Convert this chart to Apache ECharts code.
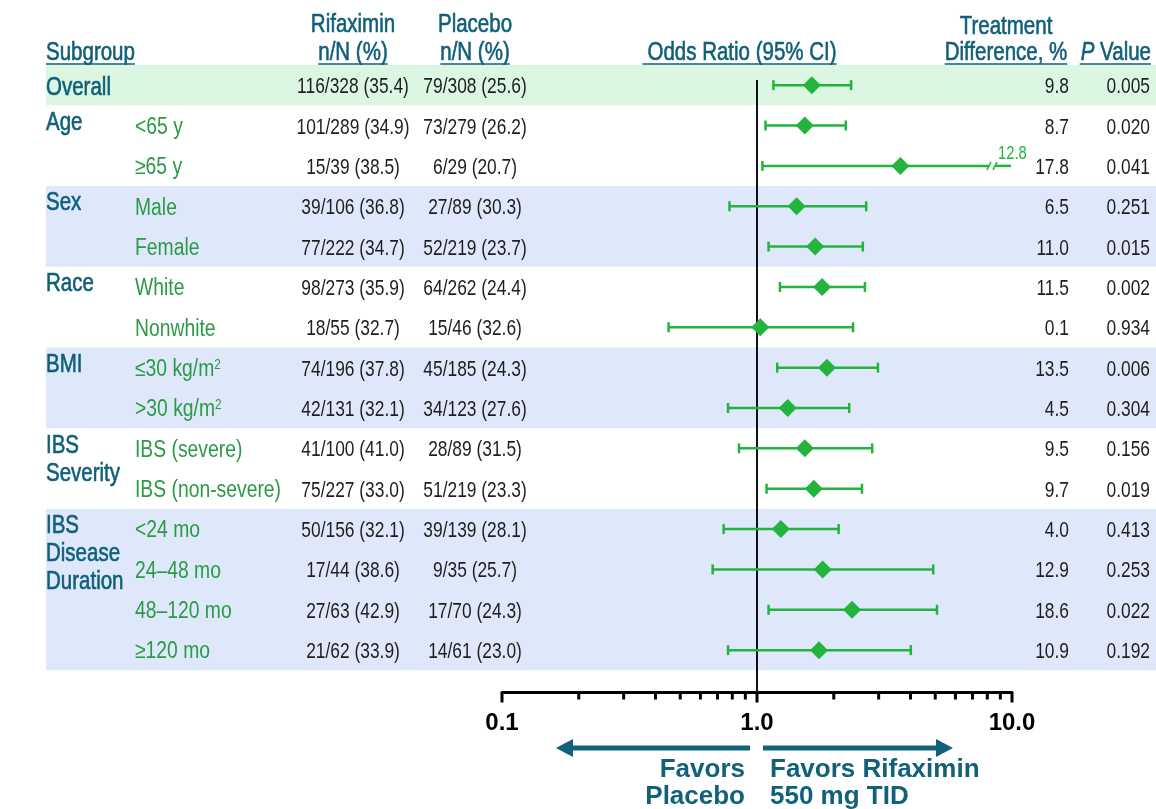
<!DOCTYPE html>
<html><head><meta charset="utf-8">
<script src="https://cdn.jsdelivr.net/npm/echarts@6/dist/echarts.min.js"></script>
<style>html,body{margin:0;padding:0;background:#fff;}#c{width:1156px;height:809px;}</style>
</head><body><div id="c"></div>
<script>
// ---------------- DATA ----------------
const groups = ['Overall', 'Age', 'Sex', 'Race', 'BMI', 'IBS\nSeverity', 'IBS\nDisease\nDuration'];
const groupStart = [0, 1, 3, 5, 7, 9, 11];
const groupEnd = [0, 2, 4, 6, 8, 10, 14];
const groupShade = ['green', 'none', 'blue', 'none', 'blue', 'none', 'blue'];
const subgroups = ['', '<65 y', '≥65 y', 'Male', 'Female', 'White', 'Nonwhite', '≤30 kg/m²', '>30 kg/m²',
  'IBS (severe)', 'IBS (non-severe)', '<24 mo', '24–48 mo', '48–120 mo', '≥120 mo'];
const rifaximin = ['116/328 (35.4)', '101/289 (34.9)', '15/39 (38.5)', '39/106 (36.8)', '77/222 (34.7)',
  '98/273 (35.9)', '18/55 (32.7)', '74/196 (37.8)', '42/131 (32.1)', '41/100 (41.0)', '75/227 (33.0)',
  '50/156 (32.1)', '17/44 (38.6)', '27/63 (42.9)', '21/62 (33.9)'];
const placebo = ['79/308 (25.6)', '73/279 (26.2)', '6/29 (20.7)', '27/89 (30.3)', '52/219 (23.7)',
  '64/262 (24.4)', '15/46 (32.6)', '45/185 (24.3)', '34/123 (27.6)', '28/89 (31.5)', '51/219 (23.3)',
  '39/139 (28.1)', '9/35 (25.7)', '17/70 (24.3)', '14/61 (23.0)'];
const oddsRatio = [1.64, 1.54, 3.65, 1.43, 1.69, 1.80, 1.03, 1.88, 1.32, 1.54, 1.67, 1.24, 1.81, 2.36, 1.75];
const ciLow =     [1.16, 1.08, 1.05, 0.78, 1.11, 1.23, 0.45, 1.20, 0.77, 0.85, 1.09, 0.74, 0.67, 1.11, 0.77];
const ciHigh =    [2.34, 2.23, 12.8, 2.68, 2.60, 2.65, 2.38, 2.98, 2.30, 2.83, 2.58, 2.09, 4.91, 5.08, 4.01];
const treatmentDiff = ['9.8', '8.7', '17.8', '6.5', '11.0', '11.5', '0.1', '13.5', '4.5', '9.5', '9.7', '4.0', '12.9', '18.6', '10.9'];
const pValues = ['0.005', '0.020', '0.041', '0.251', '0.015', '0.002', '0.934', '0.006', '0.304', '0.156', '0.019', '0.413', '0.253', '0.022', '0.192'];
const axisTicks = [0.1, 0.2, 0.3, 0.4, 0.5, 0.6, 0.7, 0.8, 0.9, 1, 2, 3, 4, 5, 6, 7, 8, 9, 10];
const axisMajor = [0.1, 1, 10];
const X_MIN = 0.1, X_MAX = 10;

// ---------------- STYLE / LAYOUT ----------------
const SANS = '"Liberation Sans", Arial, sans-serif';
const TEAL = '#0f5f7a';
const ARROW = '#12617a';
const GREEN_TXT = '#2b9a45';
const MARK = '#22b43c';
const DARK = '#1e1e1e';
const BAND_GREEN = '#dbf6e1';
const BAND_BLUE = '#dfe8fb';
const BAND_X0 = 46, BAND_X1 = 1156;
const Y_MIN = -0.5, Y_MAX = 15.05;
const NARROW_SCALE = 0.82;   // condensed look
const DATA_SCALE = 0.79;
const SEMI = { stroke: TEAL, lineWidth: 0.6 };   // semi-bold look for teal labels

const ctx = document.createElement('canvas').getContext('2d');
function tw(text, size, weight) { ctx.font = (weight || 'normal') + ' ' + size + 'px ' + SANS; return ctx.measureText(text).width; }

const rows = subgroups.map((_, i) => i);

function txt(text, x, y, align, size, color, sx, extra, vAlign) {
  const va = vAlign || 'middle';
  return {
    type: 'text', x: x, y: y, scaleX: sx || 1, scaleY: 1,
    style: Object.assign({ text: text, fill: color, fontSize: size, fontFamily: SANS,
      align: align, textAlign: align, verticalAlign: va, textVerticalAlign: va }, extra || {})
  };
}

// header cells (layout)
const H_SIZE = 25;
const headerCells = [
  { t: 'Subgroup', x: 46, y: 53, a: 'left', u: true },
  { t: 'Rifaximin', x: 353, y: 25, a: 'center' },
  { t: 'n/N (%)', x: 353, y: 53, a: 'center', u: true },
  { t: 'Placebo', x: 475, y: 25, a: 'center' },
  { t: 'n/N (%)', x: 475, y: 53, a: 'center', u: true },
  { t: 'Odds Ratio (95% CI)', x: 742, y: 53, a: 'center', u: true, pad: 5 },
  { t: 'Treatment', x: 1006, y: 27, a: 'center' },
  { t: 'Difference, %', x: 1006, y: 53, a: 'center', u: true }
];
const UL_Y = 64;
const graphicEls = [];
headerCells.forEach(h => {
  graphicEls.push(txt(h.t, h.x, h.y, h.a, H_SIZE, TEAL, NARROW_SCALE, SEMI));
  if (h.u) {
    const w = tw(h.t, H_SIZE) * NARROW_SCALE;
    let x0 = h.a === 'left' ? h.x : h.a === 'center' ? h.x - w / 2 : h.x - w;
    x0 -= (h.pad || 0);
    graphicEls.push({ type: 'line', shape: { x1: x0, y1: UL_Y, x2: x0 + w + (h.pad || 0), y2: UL_Y }, style: { stroke: TEAL, lineWidth: 1.5 } });
  }
});
// P Value header with italic P
(function () {
  const right = 1151, w = tw('P Value', H_SIZE) * NARROW_SCALE;
  graphicEls.push(txt('{i|P} Value', right, 53, 'right', H_SIZE, TEAL, NARROW_SCALE,
    Object.assign({ rich: { i: { fontStyle: 'italic', fontSize: H_SIZE, fontFamily: SANS, fill: TEAL } } }, SEMI)));
  graphicEls.push({ type: 'line', shape: { x1: right - w - 1, y1: UL_Y, x2: right, y2: UL_Y }, style: { stroke: TEAL, lineWidth: 1.5 } });
})();
// favors arrows and texts
graphicEls.push({ type: 'line', shape: { x1: 750, y1: 748, x2: 568, y2: 748 }, style: { stroke: ARROW, lineWidth: 5 } });
graphicEls.push({ type: 'polygon', shape: { points: [[556, 748], [573, 739], [573, 757]] }, style: { fill: ARROW } });
graphicEls.push({ type: 'line', shape: { x1: 763, y1: 748, x2: 940, y2: 748 }, style: { stroke: ARROW, lineWidth: 5 } });
graphicEls.push({ type: 'polygon', shape: { points: [[953, 748], [936, 739], [936, 757]] }, style: { fill: ARROW } });
const FAV = { fontWeight: 'bold' };
graphicEls.push(txt('Favors', 745, 770, 'right', 26, ARROW, 1, FAV));
graphicEls.push(txt('Placebo', 745, 797, 'right', 26, ARROW, 1, FAV));
graphicEls.push(txt('Favors Rifaximin', 770, 770, 'left', 26, ARROW, 1, FAV));
graphicEls.push(txt('550 mg TID', 770, 797, 'left', 26, ARROW, 1, FAV));

const chart = echarts.init(document.getElementById('c'), null, { renderer: 'canvas' });

const option = {
  animation: false,
  backgroundColor: '#fff',
  grid: { left: 502, top: 65, width: 510, height: 627.5, containLabel: false, outerBoundsMode: 'none' },
  xAxis: {
    type: 'log', logBase: 10, min: X_MIN, max: X_MAX,
    axisLine: { show: true, onZero: false, lineStyle: { color: '#000', width: 3 } },
    axisTick: { show: false }, minorTick: { show: false }, splitLine: { show: false },
    axisLabel: { formatter: v => (+v).toFixed(1), fontFamily: SANS, fontWeight: 'bold', fontSize: 24, color: '#000',
      margin: 19, showMinLabel: true, showMaxLabel: true }
  },
  yAxis: { type: 'value', inverse: true, min: Y_MIN, max: Y_MAX, show: false },
  graphic: { elements: graphicEls },
  series: [
    { // background bands
      type: 'custom', z: 0, silent: true, clip: false,
      data: groups.map((g, i) => [1, groupStart[i], groupEnd[i]]),
      encode: { x: 0, y: 1 },
      renderItem: (params, api) => {
        const shade = groupShade[params.dataIndex];
        if (shade === 'none') return null;
        const y0 = api.coord([1, api.value(1) - 0.5])[1];
        const y1 = api.coord([1, api.value(2) + 0.5])[1];
        return { type: 'rect', shape: { x: BAND_X0, y: y0, width: BAND_X1 - BAND_X0, height: y1 - y0 },
          style: { fill: shade === 'green' ? BAND_GREEN : BAND_BLUE } };
      }
    },
    { // group labels
      type: 'custom', z: 3, silent: true, clip: false,
      data: groups.map((g, i) => [1, groupStart[i], groupEnd[i]]),
      encode: { x: 0, y: 1 },
      renderItem: (params, api) => {
        const s = api.value(1), e = api.value(2);
        const label = groups[params.dataIndex];
        if (s === e) {
          const cy = api.coord([1, s])[1] + 2.5;
          return txt(label, 46, cy, 'left', 25, TEAL, NARROW_SCALE, SEMI);
        }
        const top = api.coord([1, s - 0.5])[1];
        return txt(label, 46, top + 3.5, 'left', 25, TEAL, NARROW_SCALE, Object.assign({ lineHeight: 28 }, SEMI), 'top');
      }
    },
    { // row texts
      type: 'custom', z: 3, silent: true, clip: false,
      data: rows.map(i => [1, i]),
      encode: { x: 0, y: 1 },
      renderItem: (params, api) => {
        const i = params.dataIndex;
        const cy = api.coord([1, api.value(1)])[1] + 2;
        const sub = subgroups[i].replace('²', '{sup|2}');
        const children = [
          txt(sub, 135, cy, 'left', 23, GREEN_TXT, 0.84,
            { rich: { sup: { fontSize: 14, fontFamily: SANS, fill: GREEN_TXT, verticalAlign: 'top', lineHeight: 23 } } }),
          txt(rifaximin[i], 353, cy, 'center', 22, DARK, DATA_SCALE),
          txt(placebo[i], 475, cy, 'center', 22, DARK, DATA_SCALE),
          txt(treatmentDiff[i], 1069, cy, 'right', 22, DARK, DATA_SCALE),
          txt(pValues[i], 1150, cy, 'right', 22, DARK, DATA_SCALE)
        ];
        return { type: 'group', children: children };
      }
    },
    { // reference line at OR = 1
      type: 'custom', z: 4, silent: true, clip: false,
      data: [[1, -0.13, Y_MAX]],
      encode: { x: 0, y: 1 },
      renderItem: (params, api) => {
        const p0 = api.coord([api.value(0), api.value(1)]);
        const p1 = api.coord([api.value(0), api.value(2)]);
        return { type: 'line', shape: { x1: p0[0], y1: p0[1], x2: p1[0], y2: p1[1] }, style: { stroke: '#111', lineWidth: 2 } };
      }
    },
    { // axis ticks
      type: 'custom', z: 4, silent: true, clip: false,
      data: axisTicks.map(v => [v, Y_MAX]),
      encode: { x: 0, y: 1 },
      renderItem: (params, api) => {
        const v = api.value(0);
        const p = api.coord([v, api.value(1)]);
        const len = axisMajor.some(m => Math.abs(m - v) < 1e-9) ? 10 : 7;
        return { type: 'line', shape: { x1: p[0], y1: p[1], x2: p[0], y2: p[1] + len }, style: { stroke: '#000', lineWidth: 3 } };
      }
    },
    { // confidence intervals
      type: 'custom', z: 5, silent: true, clip: false,
      data: rows.map(i => [ciLow[i], i, ciHigh[i]]),
      encode: { x: 0, y: 1 },
      renderItem: (params, api) => {
        const lo = api.value(0), r = api.value(1), hi = api.value(2);
        const pLo = api.coord([lo, r]);
        const y = pLo[1];
        const st = { stroke: MARK, lineWidth: 2.5 };
        const ch = [{ type: 'line', shape: { x1: pLo[0], y1: y - 5, x2: pLo[0], y2: y + 5 }, style: st }];
        if (hi > X_MAX) {
          const end = api.coord([X_MAX, r])[0] - 1;
          const brk = end - 19;
          ch.push({ type: 'line', shape: { x1: pLo[0], y1: y, x2: brk - 3, y2: y }, style: st });
          ch.push({ type: 'line', shape: { x1: brk + 3, y1: y, x2: end, y2: y }, style: st });
          ch.push({ type: 'line', shape: { x1: brk - 5, y1: y + 4, x2: brk - 1, y2: y - 4 }, style: { stroke: MARK, lineWidth: 1.5 } });
          ch.push({ type: 'line', shape: { x1: brk + 1, y1: y + 4, x2: brk + 5, y2: y - 4 }, style: { stroke: MARK, lineWidth: 1.5 } });
          ch.push(txt(String(hi), end - 13, y - 11.5, 'left', 18, MARK, NARROW_SCALE));
        } else {
          const pHi = api.coord([hi, r]);
          ch.push({ type: 'line', shape: { x1: pLo[0], y1: y, x2: pHi[0], y2: y }, style: st });
          ch.push({ type: 'line', shape: { x1: pHi[0], y1: y - 5, x2: pHi[0], y2: y + 5 }, style: st });
        }
        return { type: 'group', children: ch };
      }
    },
    { // point estimates
      type: 'scatter', z: 6, silent: true,
      symbol: 'diamond', symbolSize: 18,
      itemStyle: { color: MARK, opacity: 1 },
      data: rows.map(i => [oddsRatio[i], i])
    }
  ]
};
chart.setOption(option);
</script>
</body></html>
